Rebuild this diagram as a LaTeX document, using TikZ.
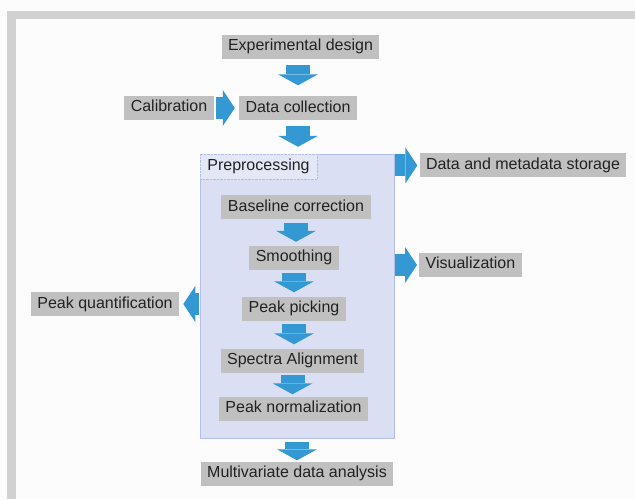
\documentclass[tikz,border=0pt]{standalone}
\usepackage{fontspec}
\setmainfont{Liberation Sans}
\usetikzlibrary{arrows.meta}
\definecolor{boxgray}{RGB}{192,192,192}
\definecolor{framegray}{RGB}{209,209,209}
\definecolor{flowblue}{RGB}{52,152,210}
\definecolor{prepfill}{RGB}{218,223,243}
\definecolor{prepline}{RGB}{180,190,228}
\definecolor{labelfill}{RGB}{228,231,246}
\definecolor{textdark}{RGB}{34,34,34}

\begin{document}
\begin{tikzpicture}[line join=round,x=1pt,y=1pt,
  font=\fontsize{16}{19}\selectfont,
  graybox/.style={fill=boxgray,text=textdark,inner xsep=6.5pt,inner ysep=0pt,
    text height=11.5pt,text depth=3.5pt,minimum height=24pt},
  prepbox/.style={fill=prepfill,draw=prepline,minimum width=194pt,minimum height=284pt},
  preplabel/.style={fill=labelfill,draw=prepline,densely dotted,text=textdark,
    minimum width=117pt,minimum height=25pt,text height=11.5pt,text depth=3.5pt},
  downarrow/.style={draw=flowblue,line width=24pt,-{Triangle[width=40pt,length=11pt,line width=0pt]}},
  sidearrow/.style={draw=flowblue,line width=22pt,-{Triangle[width=36pt,length=12pt,line width=0pt]}}]
\useasboundingbox (0,0) rectangle (635,499);
% frame
\fill[white!99!black] (0,0) rectangle (635,499);
\fill[framegray] (7,480) rectangle (635,488);
\fill[framegray] (7,0) rectangle (16,488);
% preprocessing block
\node[prepbox] (prep) at (297,203) {};
\node[preplabel,anchor=north west] (preplabel) at (prep.north west) {Preprocessing};
% steps
\node[graybox] (expdesign) at (300.5,452) {Experimental design};
\node[graybox] (calib) at (169,391) {Calibration};
\node[graybox] (datacoll) at (298,390.5) {Data collection};
\node[graybox] (baseline) at (296,291.5) {Baseline correction};
\node[graybox] (smoothing) at (294,241) {Smoothing};
\node[graybox] (peakpick) at (294,190.5) {Peak picking};
\node[graybox] (spectra) at (292.5,138.5) {Spectra Alignment};
\node[graybox] (peaknorm) at (293.5,90.5) {Peak normalization};
\node[graybox] (multivar) at (297,25.5) {Multivariate data analysis};
\node[graybox] (storage) at (523,333.5) {Data and metadata storage};
\node[graybox] (visual) at (470.5,234) {Visualization};
\node[graybox] (peakquant) at (105,195) {Peak quantification};
% arrows
\draw[downarrow,shorten <=6pt,shorten >=11pt] (datacoll.north |- expdesign.south) -- (datacoll.north);
\draw[downarrow,shorten <=5pt,shorten >=7pt] (datacoll.south) -- (datacoll.south |- prep.north);
\draw[downarrow,shorten <=3pt,shorten >=4pt] (baseline.south) -- (baseline.south |- smoothing.north);
\draw[downarrow,shorten <=3pt,shorten >=4pt] (smoothing.south) -- (smoothing.south |- peakpick.north);
\draw[downarrow,shorten <=3pt,shorten >=4pt] (peakpick.south) -- (peakpick.south |- spectra.north);
\draw[downarrow,shorten <=2pt,shorten >=2pt] (spectra.south) -- (spectra.south |- peaknorm.north);
\draw[downarrow,shorten <=4pt,shorten >=1pt] (multivar.north |- prep.south) -- (multivar.north);
\draw[sidearrow,shorten <=2pt,shorten >=4pt] (calib.east) -- (calib.east -| datacoll.west);
\draw[sidearrow,shorten <=1pt,shorten >=2pt] (prep.east |- storage.west) -- (storage.west);
\draw[sidearrow,shorten <=1pt,shorten >=2pt] (prep.east |- visual.west) -- (visual.west);
\draw[sidearrow,shorten <=1pt,shorten >=4pt] (prep.west |- peakquant.east) -- (peakquant.east);
\end{tikzpicture}
\end{document}
